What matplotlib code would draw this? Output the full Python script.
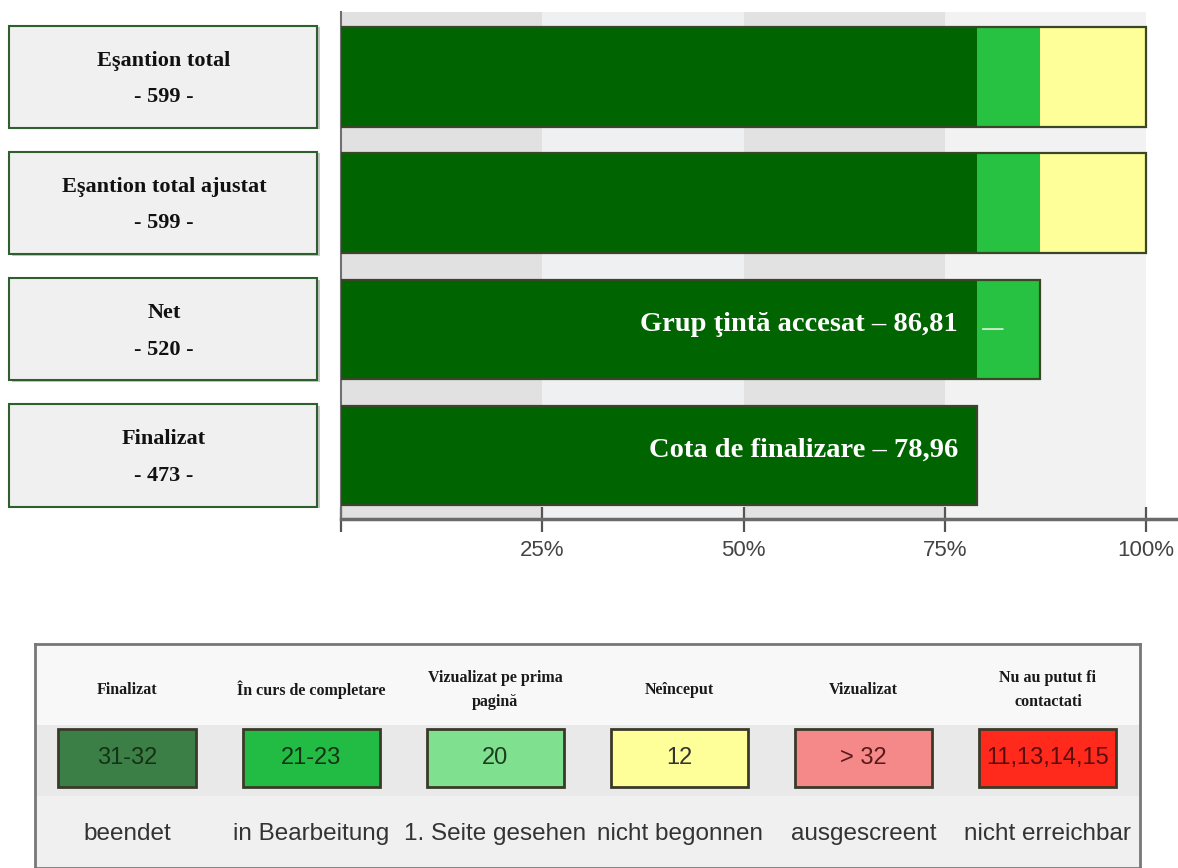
import numpy as np
import matplotlib.pyplot as plt
from matplotlib.patches import Rectangle

# data
row_names = ['Eşantion total', 'Eşantion total ajustat', 'Net', 'Finalizat']
row_counts = [599, 599, 520, 473]
base_total = 599
finished = [473, 473, 473, 473]
in_progress = [47, 47, 47, 0]
not_started = [79, 79, 0, 0]
bar_labels = ['', '', 'Grup ţintă accesat – 86,81', 'Cota de finalizare – 78,96']
ticks = [0, 25, 50, 75, 100]
tick_labels = ['', '25%', '50%', '75%', '100%']

legend_titles = ['Finalizat', 'În curs de completare', 'Vizualizat pe prima\npagină',
                 'Neînceput', 'Vizualizat', 'Nu au putut fi\ncontactati']
legend_codes = ['31-32', '21-23', '20', '12', '> 32', '11,13,14,15']
legend_german = ['beendet', 'in Bearbeitung', '1. Seite gesehen', 'nicht begonnen',
                 'ausgescreent', 'nicht erreichbar']
legend_colors = ['#3b7f47', '#22bb44', '#7fe08f', '#ffff99', '#f58888', '#ff2a1c']
legend_text_colors = ['#143214', '#143214', '#1e3c1e', '#333333', '#5a1a1a', '#5a0d0d']

serif = 'Liberation Serif'
sans = 'Liberation Sans'

W, H = 1178, 868
fig = plt.figure(figsize=(W / 100, H / 100), dpi=100)
fig.patch.set_facecolor('white')

# main bar axes
ax = fig.add_axes([341 / W, (H - 519) / H, (W - 341) / W, (519 - 12) / H])
ax.set_facecolor('white')
ax.set_xlim(0, 100 * (W - 341) / (1146 - 341))
ax.set_ylim(3.503, -0.515)

bands = [(0, 25, '#e1e1e1'), (25, 50, '#eef0f2'), (50, 75, '#e1e2e1'), (75, 100, '#f2f2f2')]
for a, b, c in bands:
    ax.axvspan(a, b, color=c, zorder=0, lw=0)

pos = np.arange(len(row_names))
pct_fin = np.array(finished) / base_total * 100
pct_prog = np.array(in_progress) / base_total * 100
pct_not = np.array(not_started) / base_total * 100
h = 0.79
ax.barh(pos, pct_fin, height=h, color='#006400', zorder=2, lw=0)
ax.barh(pos, pct_prog, left=pct_fin, height=h, color='#27c241', zorder=2, lw=0)
ax.barh(pos, pct_not, left=pct_fin + pct_prog, height=h, color='#ffff99', zorder=2, lw=0)
ax.barh(pos, pct_fin + pct_prog + pct_not, height=h, fill=False,
        edgecolor='#3a4628', lw=1.6, zorder=3)

for i, lab in enumerate(bar_labels):
    if lab:
        ax.text(pct_fin[i] - 2.3, i - 0.04, lab, color='white', ha='right', va='center',
                fontsize=20.5, fontweight='bold', family=serif, zorder=4)
# small dash mark inside light green segment of "Net"
ax.text(pct_fin[2] + 2.0, 2 + 0.0, '—', color='#c8ecc8', ha='center', va='center',
        fontsize=17, zorder=4)

for s in ['top', 'right']:
    ax.spines[s].set_visible(False)
ax.spines['left'].set_color('#707070')
ax.spines['left'].set_linewidth(1.5)
ax.spines['bottom'].set_color('#6a6a6a')
ax.spines['bottom'].set_linewidth(2.5)
ax.set_yticks([])
ax.set_xticks(ticks)
ax.set_xticklabels(tick_labels, fontsize=16, color='#444444', family=sans)
ax.tick_params(axis='x', direction='inout', length=18, width=1.6, color='#555555', pad=6)

# left label boxes
ax_lab = fig.add_axes([0, (H - 519) / H, 341 / W, (519 - 12) / H])
ax_lab.set_xlim(0, 341)
ax_lab.set_ylim(3.503, -0.515)
ax_lab.axis('off')
for i, (name, n) in enumerate(zip(row_names, row_counts)):
    ax_lab.add_patch(Rectangle((12, i - 0.395), 308, 0.81, facecolor='#5a5a5a',
                               edgecolor='none', alpha=0.35))
    ax_lab.add_patch(Rectangle((9, i - 0.405), 308, 0.81, facecolor='#f0f0f0',
                               edgecolor='#2f5f2f', lw=1.5))
    ax_lab.text(164, i - 0.13, name, ha='center', va='center', fontsize=16,
                fontweight='bold', family=serif, color='#111111')
    ax_lab.text(164, i + 0.16, f'- {n} -', ha='center', va='center', fontsize=16,
                fontweight='bold', family=serif, color='#111111')

# legend panel
lg = fig.add_axes([35 / W, 0, (1140 - 35) / W, (H - 644) / H])
lg.set_xlim(0, 6)
lg.set_ylim(224, 0)
lg.set_facecolor('#f8f8f8')
lg.axhspan(81, 152, color='#e9e9e9', lw=0, zorder=0)
lg.axhspan(152, 224, color='#f0f0f0', lw=0, zorder=0)
lg.set_xticks([])
lg.set_yticks([])
for s in lg.spines.values():
    s.set_color('#777777')
    s.set_linewidth(2)

for i in range(len(legend_codes)):
    cx = i + 0.5
    lg.text(cx, 46, legend_titles[i], ha='center', va='center', fontsize=11.5,
            fontweight='bold', family=serif, color='#1a1a1a', linespacing=1.75)
    lg.add_patch(Rectangle((cx - 0.373, 85), 0.745, 58, facecolor=legend_colors[i],
                           edgecolor='#3a3a2a', lw=2))
    lg.text(cx, 114, legend_codes[i], ha='center', va='center', fontsize=17,
            family=sans, color=legend_text_colors[i])
    lg.text(cx, 190, legend_german[i], ha='center', va='center', fontsize=17.5,
            family=sans, color='#333333')

fig.savefig('out.png', dpi=100)
